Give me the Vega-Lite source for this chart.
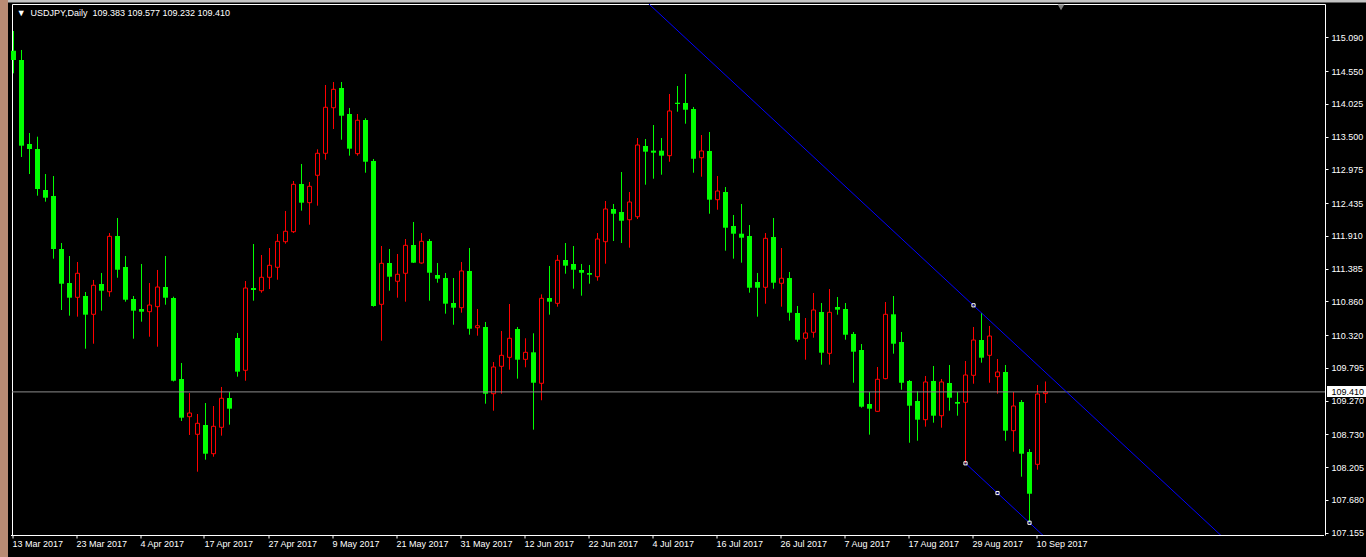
{
"$schema": "https://vega.github.io/schema/vega-lite/v6.json",
"width": 1313,
"height": 531,
"autosize": {"type": "none"},
"padding": {"left": 12, "top": 4, "right": 41, "bottom": 22},
"background": "#000000",
"config": {
  "view": {"stroke": null},
  "scale": {"continuousPadding": 0},
  "axis": {"grid": false, "labelFont": "Liberation Sans", "labelFontSize": 9, "labelColor": "#ffffff", "domainColor": "#ffffff", "tickColor": "#ffffff", "title": null}
},
"datasets": {
"candles": [
{"i":0,"o":114.875,"h":115.191,"l":114.513,"c":114.726},
{"i":1,"o":114.726,"h":114.887,"l":113.173,"c":113.354},
{"i":2,"o":113.381,"h":113.557,"l":112.900,"c":113.301},
{"i":3,"o":113.301,"h":113.498,"l":112.553,"c":112.660},
{"i":4,"o":112.644,"h":112.900,"l":112.457,"c":112.521},
{"i":5,"o":112.548,"h":112.868,"l":111.544,"c":111.699},
{"i":6,"o":111.699,"h":111.795,"l":110.722,"c":111.143},
{"i":7,"o":111.154,"h":111.587,"l":110.631,"c":110.919},
{"i":8,"o":110.925,"h":111.491,"l":110.615,"c":111.310},
{"i":9,"o":110.946,"h":111.010,"l":110.102,"c":110.647},
{"i":10,"o":110.653,"h":111.203,"l":110.182,"c":111.118},
{"i":11,"o":111.138,"h":111.315,"l":110.711,"c":111.031},
{"i":12,"o":111.015,"h":111.955,"l":110.935,"c":111.902},
{"i":13,"o":111.907,"h":112.196,"l":111.239,"c":111.367},
{"i":14,"o":111.411,"h":111.587,"l":110.855,"c":110.887},
{"i":15,"o":110.898,"h":110.946,"l":110.262,"c":110.711},
{"i":16,"o":110.738,"h":111.459,"l":110.535,"c":110.695},
{"i":17,"o":110.695,"h":111.154,"l":110.294,"c":110.802},
{"i":18,"o":110.775,"h":111.363,"l":110.134,"c":111.090},
{"i":19,"o":111.090,"h":111.587,"l":110.807,"c":110.919},
{"i":20,"o":110.914,"h":110.935,"l":109.577,"c":109.589},
{"i":21,"o":109.617,"h":109.873,"l":108.944,"c":108.997},
{"i":22,"o":109.013,"h":109.392,"l":108.720,"c":109.072},
{"i":23,"o":108.731,"h":109.056,"l":108.132,"c":108.907},
{"i":24,"o":108.880,"h":109.232,"l":108.324,"c":108.420},
{"i":25,"o":108.420,"h":109.184,"l":108.372,"c":108.859},
{"i":26,"o":108.843,"h":109.489,"l":108.709,"c":109.308},
{"i":27,"o":109.312,"h":109.408,"l":108.885,"c":109.141},
{"i":28,"o":110.273,"h":110.354,"l":109.654,"c":109.734},
{"i":29,"o":109.756,"h":111.186,"l":109.589,"c":111.074},
{"i":30,"o":111.074,"h":111.779,"l":110.871,"c":111.042},
{"i":31,"o":111.031,"h":111.603,"l":110.999,"c":111.246},
{"i":32,"o":111.246,"h":111.715,"l":111.058,"c":111.438},
{"i":33,"o":111.406,"h":111.939,"l":111.207,"c":111.822},
{"i":34,"o":111.816,"h":112.308,"l":111.784,"c":111.983},
{"i":35,"o":111.976,"h":112.788,"l":111.955,"c":112.735},
{"i":36,"o":112.740,"h":113.061,"l":112.313,"c":112.441},
{"i":37,"o":112.441,"h":112.772,"l":112.088,"c":112.703},
{"i":38,"o":112.880,"h":113.296,"l":112.393,"c":113.232},
{"i":39,"o":113.232,"h":114.326,"l":113.129,"c":113.969},
{"i":40,"o":113.962,"h":114.374,"l":113.621,"c":114.257},
{"i":41,"o":114.278,"h":114.374,"l":113.450,"c":113.834},
{"i":42,"o":113.861,"h":113.958,"l":113.194,"c":113.306},
{"i":43,"o":113.226,"h":113.861,"l":113.194,"c":113.761},
{"i":44,"o":113.765,"h":113.793,"l":112.921,"c":113.097},
{"i":45,"o":113.109,"h":113.141,"l":110.775,"c":110.786},
{"i":46,"o":110.813,"h":111.747,"l":110.230,"c":111.470},
{"i":47,"o":111.475,"h":111.699,"l":111.031,"c":111.255},
{"i":48,"o":111.182,"h":111.619,"l":110.919,"c":111.294},
{"i":49,"o":111.310,"h":111.859,"l":110.855,"c":111.758},
{"i":50,"o":111.763,"h":112.132,"l":111.475,"c":111.480},
{"i":51,"o":111.475,"h":111.955,"l":111.464,"c":111.822},
{"i":52,"o":111.827,"h":111.859,"l":110.871,"c":111.319},
{"i":53,"o":111.283,"h":111.475,"l":111.159,"c":111.223},
{"i":54,"o":111.234,"h":111.315,"l":110.663,"c":110.823},
{"i":55,"o":110.834,"h":111.234,"l":110.486,"c":110.759},
{"i":56,"o":110.759,"h":111.491,"l":110.679,"c":111.347},
{"i":57,"o":111.347,"h":111.715,"l":110.326,"c":110.422},
{"i":58,"o":110.438,"h":110.738,"l":110.310,"c":110.470},
{"i":59,"o":110.450,"h":110.530,"l":109.221,"c":109.381},
{"i":60,"o":109.381,"h":109.889,"l":109.109,"c":109.809},
{"i":61,"o":109.820,"h":110.386,"l":109.381,"c":109.996},
{"i":62,"o":109.964,"h":110.818,"l":109.766,"c":110.269},
{"i":63,"o":110.418,"h":110.450,"l":109.622,"c":109.926},
{"i":64,"o":109.932,"h":110.269,"l":109.804,"c":110.044},
{"i":65,"o":110.044,"h":110.349,"l":108.805,"c":109.557},
{"i":66,"o":109.548,"h":110.973,"l":109.276,"c":110.909},
{"i":67,"o":110.914,"h":111.427,"l":110.647,"c":110.855},
{"i":68,"o":110.829,"h":111.603,"l":110.775,"c":111.518},
{"i":69,"o":111.523,"h":111.795,"l":111.303,"c":111.432},
{"i":70,"o":111.459,"h":111.747,"l":111.063,"c":111.367},
{"i":71,"o":111.363,"h":111.459,"l":110.951,"c":111.319},
{"i":72,"o":111.315,"h":111.443,"l":111.143,"c":111.287},
{"i":73,"o":111.255,"h":111.955,"l":111.191,"c":111.859},
{"i":74,"o":111.816,"h":112.468,"l":111.464,"c":112.340},
{"i":75,"o":112.340,"h":112.420,"l":111.827,"c":112.264},
{"i":76,"o":112.292,"h":112.932,"l":111.795,"c":112.152},
{"i":77,"o":112.168,"h":112.612,"l":111.720,"c":112.452},
{"i":78,"o":112.216,"h":113.477,"l":112.180,"c":113.365},
{"i":79,"o":113.349,"h":113.461,"l":112.729,"c":113.258},
{"i":80,"o":113.274,"h":113.685,"l":112.825,"c":113.242},
{"i":81,"o":113.274,"h":113.477,"l":112.889,"c":113.194},
{"i":82,"o":113.194,"h":114.182,"l":113.097,"c":113.910},
{"i":83,"o":114.042,"h":114.310,"l":113.898,"c":114.022},
{"i":84,"o":114.038,"h":114.502,"l":113.706,"c":113.930},
{"i":85,"o":113.942,"h":113.974,"l":112.921,"c":113.145},
{"i":86,"o":113.161,"h":113.525,"l":112.857,"c":113.269},
{"i":87,"o":113.269,"h":113.573,"l":112.264,"c":112.489},
{"i":88,"o":112.489,"h":112.868,"l":112.328,"c":112.628},
{"i":89,"o":112.612,"h":112.692,"l":111.672,"c":112.040},
{"i":90,"o":112.067,"h":112.244,"l":111.544,"c":111.944},
{"i":91,"o":111.944,"h":112.420,"l":111.480,"c":111.880},
{"i":92,"o":111.907,"h":112.083,"l":110.999,"c":111.079},
{"i":93,"o":111.170,"h":111.315,"l":110.615,"c":111.079},
{"i":94,"o":111.086,"h":111.955,"l":110.823,"c":111.870},
{"i":95,"o":111.891,"h":112.196,"l":111.063,"c":111.159},
{"i":96,"o":111.150,"h":111.715,"l":110.775,"c":111.230},
{"i":97,"o":111.234,"h":111.331,"l":110.551,"c":110.679},
{"i":98,"o":110.674,"h":110.786,"l":110.214,"c":110.246},
{"i":99,"o":110.269,"h":110.594,"l":109.926,"c":110.354},
{"i":100,"o":110.365,"h":110.994,"l":110.278,"c":110.722},
{"i":101,"o":110.690,"h":110.834,"l":109.846,"c":110.038},
{"i":102,"o":110.028,"h":111.058,"l":109.846,"c":110.685},
{"i":103,"o":110.770,"h":110.930,"l":110.647,"c":110.727},
{"i":104,"o":110.738,"h":110.834,"l":110.246,"c":110.326},
{"i":105,"o":110.338,"h":110.370,"l":109.557,"c":110.054},
{"i":106,"o":110.081,"h":110.177,"l":109.157,"c":109.173},
{"i":107,"o":109.216,"h":109.408,"l":108.725,"c":109.141},
{"i":108,"o":109.099,"h":109.809,"l":109.093,"c":109.612},
{"i":109,"o":109.622,"h":110.850,"l":109.612,"c":110.653},
{"i":110,"o":110.653,"h":110.946,"l":110.022,"c":110.182},
{"i":111,"o":110.209,"h":110.370,"l":109.445,"c":109.557},
{"i":112,"o":109.585,"h":109.601,"l":108.596,"c":109.189},
{"i":113,"o":109.264,"h":109.420,"l":108.628,"c":108.965},
{"i":114,"o":108.965,"h":109.665,"l":108.853,"c":109.569},
{"i":115,"o":109.585,"h":109.825,"l":108.917,"c":109.029},
{"i":116,"o":109.029,"h":109.617,"l":108.837,"c":109.569},
{"i":117,"o":109.553,"h":109.841,"l":109.109,"c":109.317},
{"i":118,"o":109.248,"h":109.408,"l":109.029,"c":109.221},
{"i":119,"o":109.244,"h":109.905,"l":108.266,"c":109.681},
{"i":120,"o":109.676,"h":110.450,"l":109.541,"c":110.241},
{"i":121,"o":110.241,"h":110.674,"l":109.878,"c":109.958},
{"i":122,"o":109.996,"h":110.466,"l":109.557,"c":110.305},
{"i":123,"o":109.654,"h":109.937,"l":109.381,"c":109.729},
{"i":124,"o":109.729,"h":109.841,"l":108.628,"c":108.789},
{"i":125,"o":108.789,"h":109.408,"l":108.452,"c":109.184},
{"i":126,"o":109.248,"h":109.280,"l":108.052,"c":108.420},
{"i":127,"o":108.447,"h":108.495,"l":107.321,"c":107.779},
{"i":128,"o":108.250,"h":109.521,"l":108.164,"c":109.376},
{"i":129,"o":109.383,"h":109.577,"l":109.232,"c":109.410}
],
"lines": [
{"g":"upper","i":78,"p":115.794},
{"g":"upper","i":154,"p":106.746},
{"g":"lower","i":119,"p":108.266},
{"g":"lower","i":132,"p":106.718}
],
"anchors": [
{"i":120,"p":110.797},
{"i":119,"p":108.266},
{"i":123,"p":107.790},
{"i":127,"p":107.314}
]
},
"layer": [
{
 "data": {"values": [{"part": "top"}]},
 "mark": {"type": "rect", "color": "#c4c4c4", "clip": false},
 "encoding": {
  "x": {"datum": -0.6875, "type": "quantitative", "scale": {"domain": [-0.1875, 163.9375], "nice": false, "zero": false, "padding": 0}, "axis": null},
  "x2": {"datum": 169.0625},
  "y": {"datum": 115.6875, "type": "quantitative", "scale": {"domain": [107.1179, 115.6234], "nice": false, "zero": false, "padding": 0}, "axis": null},
  "y2": {"datum": 115.6475}
 }
},
{
 "data": {"name": "candles"},
 "mark": {"type": "rule", "strokeWidth": 1},
 "encoding": {
  "x": {"field": "i", "type": "quantitative", "scale": {"domain": [-0.1875, 163.9375], "nice": false, "zero": false, "padding": 0},
   "axis": {"orient": "bottom", "values": [0,8,16,24,32,40,48,56,64,72,80,88,96,104,112,120,128],
    "labelExpr": "['13 Mar 2017','23 Mar 2017','4 Apr 2017','17 Apr 2017','27 Apr 2017','9 May 2017','21 May 2017','31 May 2017','12 Jun 2017','22 Jun 2017','4 Jul 2017','16 Jul 2017','26 Jul 2017','7 Aug 2017','17 Aug 2017','29 Aug 2017','10 Sep 2017'][round(datum.value/8)]",
    "labelAlign": "left", "labelBaseline": "top", "labelPadding": 1, "tickSize": 3, "translate": -1, "offset": 1.5, "labelFlush": false, "labelOverlap": false, "labelBound": false}},
  "y": {"field": "l", "type": "quantitative", "scale": {"domain": [107.1179, 115.6234], "nice": false, "zero": false, "padding": 0},
   "axis": {"orient": "right", "values": [115.09,114.55,114.025,113.5,112.975,112.435,111.91,111.385,110.86,110.32,109.795,109.27,108.73,108.205,107.68,107.155],
    "format": ".3f", "tickSize": 3, "labelPadding": 3, "labelBaseline": "middle", "labelOverlap": false, "labelFlush": false, "labelBound": false}},
  "y2": {"field": "h"},
  "color": {"condition": {"test": "datum.c >= datum.o", "value": "#ff0000"}, "value": "#00ff00"}
 }
},
{
 "data": {"name": "candles"},
 "transform": [{"filter": "datum.c < datum.o"}],
 "mark": {"type": "bar", "size": 5, "color": "#00ff00"},
 "encoding": {
  "x": {"field": "i", "type": "quantitative", "scale": {"domain": [-0.1875, 163.9375], "nice": false, "zero": false, "padding": 0},
   "axis": {"orient": "top", "labels": false, "ticks": false, "domain": true}},
  "y": {"field": "o", "type": "quantitative", "scale": {"domain": [107.1179, 115.6234], "nice": false, "zero": false, "padding": 0},
   "axis": {"orient": "left", "labels": false, "ticks": false, "domain": true}},
  "y2": {"field": "c"}
 }
},
{
 "data": {"name": "candles"},
 "transform": [{"filter": "datum.c >= datum.o"}],
 "mark": {"type": "bar", "size": 4, "fill": "#000000", "stroke": "#ff0000", "strokeWidth": 1},
 "encoding": {
  "x": {"field": "i", "type": "quantitative", "scale": {"domain": [-0.1875, 163.9375], "nice": false, "zero": false, "padding": 0}, "axis": null},
  "y": {"field": "o", "type": "quantitative", "scale": {"domain": [107.1179, 115.6234], "nice": false, "zero": false, "padding": 0}, "axis": null},
  "y2": {"field": "c"}
 }
},
{
 "data": {"values": [{"p": 109.41}]},
 "mark": {"type": "rule", "color": "#8c8c8c", "strokeWidth": 1},
 "encoding": {
  "y": {"field": "p", "type": "quantitative", "scale": {"domain": [107.1179, 115.6234], "nice": false, "zero": false, "padding": 0}, "axis": null}
 }
},
{
 "data": {"name": "lines"},
 "mark": {"type": "line", "color": "#0000ff", "strokeWidth": 1, "clip": true},
 "encoding": {
  "x": {"field": "i", "type": "quantitative", "scale": {"domain": [-0.1875, 163.9375], "nice": false, "zero": false, "padding": 0}, "axis": null},
  "y": {"field": "p", "type": "quantitative", "scale": {"domain": [107.1179, 115.6234], "nice": false, "zero": false, "padding": 0}, "axis": null},
  "detail": {"field": "g"}
 }
},
{
 "data": {"name": "anchors"},
 "mark": {"type": "point", "shape": "square", "filled": false, "stroke": "#ffffff", "strokeWidth": 1, "size": 10, "opacity": 1},
 "encoding": {
  "x": {"field": "i", "type": "quantitative", "scale": {"domain": [-0.1875, 163.9375], "nice": false, "zero": false, "padding": 0}, "axis": null},
  "y": {"field": "p", "type": "quantitative", "scale": {"domain": [107.1179, 115.6234], "nice": false, "zero": false, "padding": 0}, "axis": null}
 }
},
{
 "data": {"values": [{"p": 109.41}]},
 "mark": {"type": "rect", "color": "#ffffff", "clip": false},
 "encoding": {
  "x": {"datum": 164.19, "type": "quantitative", "scale": {"domain": [-0.1875, 163.9375], "nice": false, "zero": false, "padding": 0}, "axis": null},
  "x2": {"datum": 169.0625},
  "y": {"datum": 109.5046, "type": "quantitative", "scale": {"domain": [107.1179, 115.6234], "nice": false, "zero": false, "padding": 0}, "axis": null},
  "y2": {"datum": 109.3284}
 }
},
{
 "data": {"values": [{"p": 109.41, "label": "109.410"}]},
 "mark": {"type": "text", "color": "#000000", "align": "left", "baseline": "middle", "font": "Liberation Sans", "fontSize": 9, "clip": false},
 "encoding": {
  "x": {"datum": 164.75, "type": "quantitative", "scale": {"domain": [-0.1875, 163.9375], "nice": false, "zero": false, "padding": 0}, "axis": null},
  "y": {"field": "p", "type": "quantitative", "scale": {"domain": [107.1179, 115.6234], "nice": false, "zero": false, "padding": 0}, "axis": null},
  "text": {"field": "label"}
 }
},
{
 "data": {"values": [{"label": "▼\u00a0\u00a0USDJPY,Daily\u00a0\u00a0109.383 109.577 109.232 109.410"}]},
 "mark": {"type": "text", "color": "#ffffff", "align": "left", "baseline": "middle", "font": "Liberation Sans", "fontSize": 9, "clip": false},
 "encoding": {
  "x": {"datum": 0.4, "type": "quantitative", "scale": {"domain": [-0.1875, 163.9375], "nice": false, "zero": false, "padding": 0}, "axis": null},
  "y": {"datum": 115.484, "type": "quantitative", "scale": {"domain": [107.1179, 115.6234], "nice": false, "zero": false, "padding": 0}, "axis": null},
  "text": {"field": "label"}
 }
},
{
 "data": {"values": [{"part": "frame"}]},
 "mark": {"type": "rect", "color": "#b98b74", "clip": false},
 "encoding": {
  "x": {"datum": -1.6875, "type": "quantitative", "scale": {"domain": [-0.1875, 163.9375], "nice": false, "zero": false, "padding": 0}, "axis": null},
  "x2": {"datum": -0.6875},
  "y": {"datum": 115.6875, "type": "quantitative", "scale": {"domain": [107.1179, 115.6234], "nice": false, "zero": false, "padding": 0}, "axis": null},
  "y2": {"datum": 106.766}
 }
},
{
 "data": {"values": [{"part": "shift"}]},
 "mark": {"type": "point", "shape": "triangle-down", "filled": true, "color": "#808080", "size": 45, "opacity": 1},
 "encoding": {
  "x": {"datum": 130.94, "type": "quantitative", "scale": {"domain": [-0.1875, 163.9375], "nice": false, "zero": false, "padding": 0}, "axis": null},
  "y": {"datum": 115.57, "type": "quantitative", "scale": {"domain": [107.1179, 115.6234], "nice": false, "zero": false, "padding": 0}, "axis": null}
 }
}
],
"resolve": {"axis": {"x": "independent", "y": "independent"}}
}
